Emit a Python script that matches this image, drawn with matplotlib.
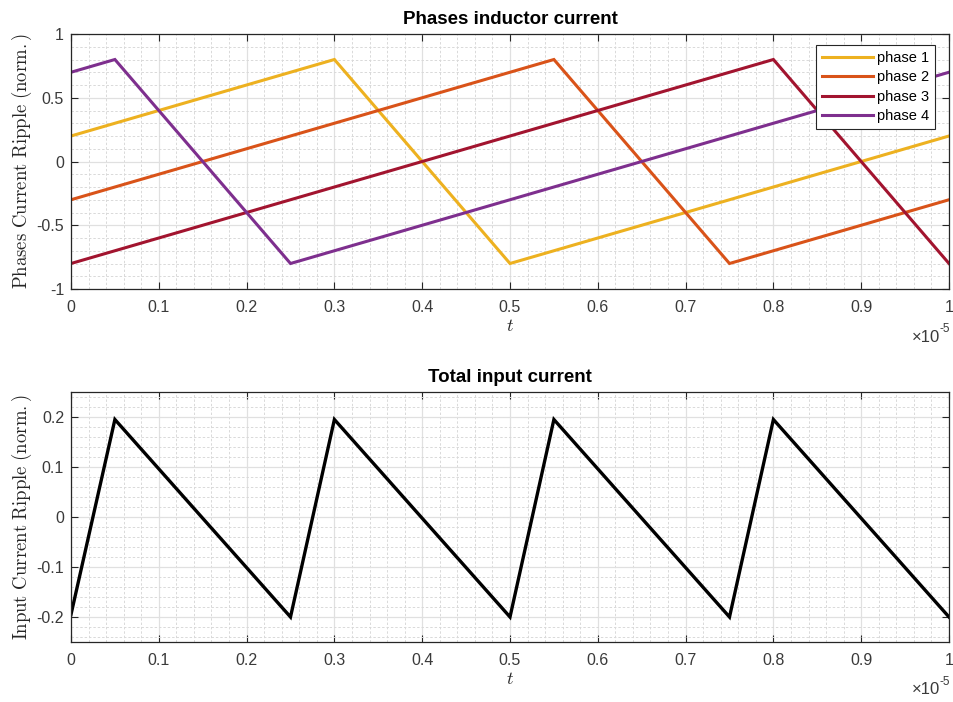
import matplotlib
matplotlib.use("Agg")
import matplotlib.pyplot as plt
from matplotlib.ticker import MultipleLocator, FuncFormatter

# Breakpoints of the triangular phase currents (time in seconds, normalized ripple)
phase1_t = [0.0, 0.30e-5, 0.50e-5, 1.00e-5]
phase1_i = [0.2, 0.8, -0.8, 0.2]
phase2_t = [0.0, 0.55e-5, 0.75e-5, 1.00e-5]
phase2_i = [-0.3, 0.8, -0.8, -0.3]
phase3_t = [0.0, 0.80e-5, 1.00e-5]
phase3_i = [-0.8, 0.8, -0.8]
phase4_t = [0.0, 0.05e-5, 0.25e-5, 1.00e-5]
phase4_i = [0.7, 0.8, -0.8, 0.7]

total_t = [0.0, 0.05e-5, 0.25e-5, 0.30e-5, 0.50e-5, 0.55e-5, 0.75e-5, 0.80e-5, 1.00e-5]
total_i = [-0.195, 0.195, -0.2, 0.195, -0.2, 0.195, -0.2, 0.195, -0.2]

labels = ["phase 1", "phase 2", "phase 3", "phase 4"]
colors = ["#EDB120", "#D95319", "#A2142F", "#7E2F8E"]

plt.rcParams["font.family"] = ["Liberation Sans", "DejaVu Sans"]
plt.rcParams["mathtext.fontset"] = "cm"
plt.rcParams["axes.unicode_minus"] = False

fig = plt.figure(figsize=(9.54, 7.02), dpi=100)
ax1 = fig.add_axes([71 / 954, 1 - 289 / 702, 878 / 954, 255 / 702])
ax2 = fig.add_axes([71 / 954, 1 - 642 / 702, 878 / 954, 250 / 702])

axis_color = "#262626"
label_color = "#3a3a3a"
xfmt = FuncFormatter(lambda v, p: f"{v / 1e-5:.10g}")
yfmt = FuncFormatter(lambda v, p: f"{round(v, 6):g}")


def style(ax, ymaj, ymin, offset_y):
    ax.set_xlim(0, 1e-5)
    ax.xaxis.set_major_locator(MultipleLocator(0.1e-5))
    ax.xaxis.set_minor_locator(MultipleLocator(0.02e-5))
    ax.xaxis.set_major_formatter(xfmt)
    ax.yaxis.set_major_locator(MultipleLocator(ymaj))
    ax.yaxis.set_minor_locator(MultipleLocator(ymin))
    ax.yaxis.set_major_formatter(yfmt)
    ax.grid(which="major", color="#e0e0e0", linewidth=0.9, linestyle="-")
    ax.grid(which="minor", color="#d9d9d9", linewidth=0.7, linestyle=(0, (2.5, 2)))
    ax.set_axisbelow(True)
    ax.tick_params(which="major", direction="in", length=5, width=0.8,
                   top=True, right=True, colors=axis_color, labelsize=11.5,
                   labelcolor=label_color)
    ax.tick_params(axis="x", which="major", pad=8)
    ax.tick_params(axis="y", which="major", pad=5)
    ax.tick_params(which="minor", length=0, top=True, right=True)
    for s in ax.spines.values():
        s.set_color(axis_color)
        s.set_linewidth(0.9)
    ax.set_xlabel(r"$t$", fontsize=13, color=axis_color, labelpad=2)
    # exponent of the time axis, drawn at the lower right corner
    ax.annotate("×10", xy=(1.0, offset_y), xycoords="axes fraction",
                xytext=(-6.5, 0), textcoords="offset points",
                ha="right", va="center", fontsize=12, color=label_color)
    ax.annotate("-5", xy=(1.0, offset_y), xycoords="axes fraction",
                xytext=(0.5, 5.5), textcoords="offset points",
                ha="right", va="center", fontsize=8.5, color=label_color)


# Phase currents
for t, i, lab, c in zip([phase1_t, phase2_t, phase3_t, phase4_t],
                        [phase1_i, phase2_i, phase3_i, phase4_i], labels, colors):
    ax1.plot(t, i, color=c, linewidth=2.2, label=lab, solid_joinstyle="miter")
ax1.set_ylim(-1, 1)
style(ax1, 0.5, 0.1, -48 / 255)
ax1.set_title("Phases inductor current", fontsize=13.5, fontweight="bold", color="black", pad=7)
ax1.set_ylabel(r"$\mathrm{Phases\ Current\ Ripple\ (norm.)}$", fontsize=13.5,
               color=axis_color, labelpad=2)
leg = ax1.legend(loc="upper right", bbox_to_anchor=(0.9835, 0.957), fontsize=10.5,
                 frameon=True, fancybox=False, framealpha=1, edgecolor="#262626",
                 handlelength=3.5, handletextpad=0.25, labelspacing=0.38,
                 borderpad=0.4, borderaxespad=0)
leg.get_frame().set_linewidth(0.8)

# Total input current
ax2.plot(total_t, total_i, color="black", linewidth=2.4, solid_joinstyle="miter")
ax2.set_ylim(-0.25, 0.25)
style(ax2, 0.1, 0.02, -48 / 250)
ax2.set_title("Total input current", fontsize=13.5, fontweight="bold", color="black", pad=7)
ax2.set_ylabel(r"$\mathrm{Input\ Current\ Ripple\ (norm.)}$", fontsize=13.5,
               color=axis_color, labelpad=2)

fig.savefig("out.png", dpi=100, facecolor="white")
